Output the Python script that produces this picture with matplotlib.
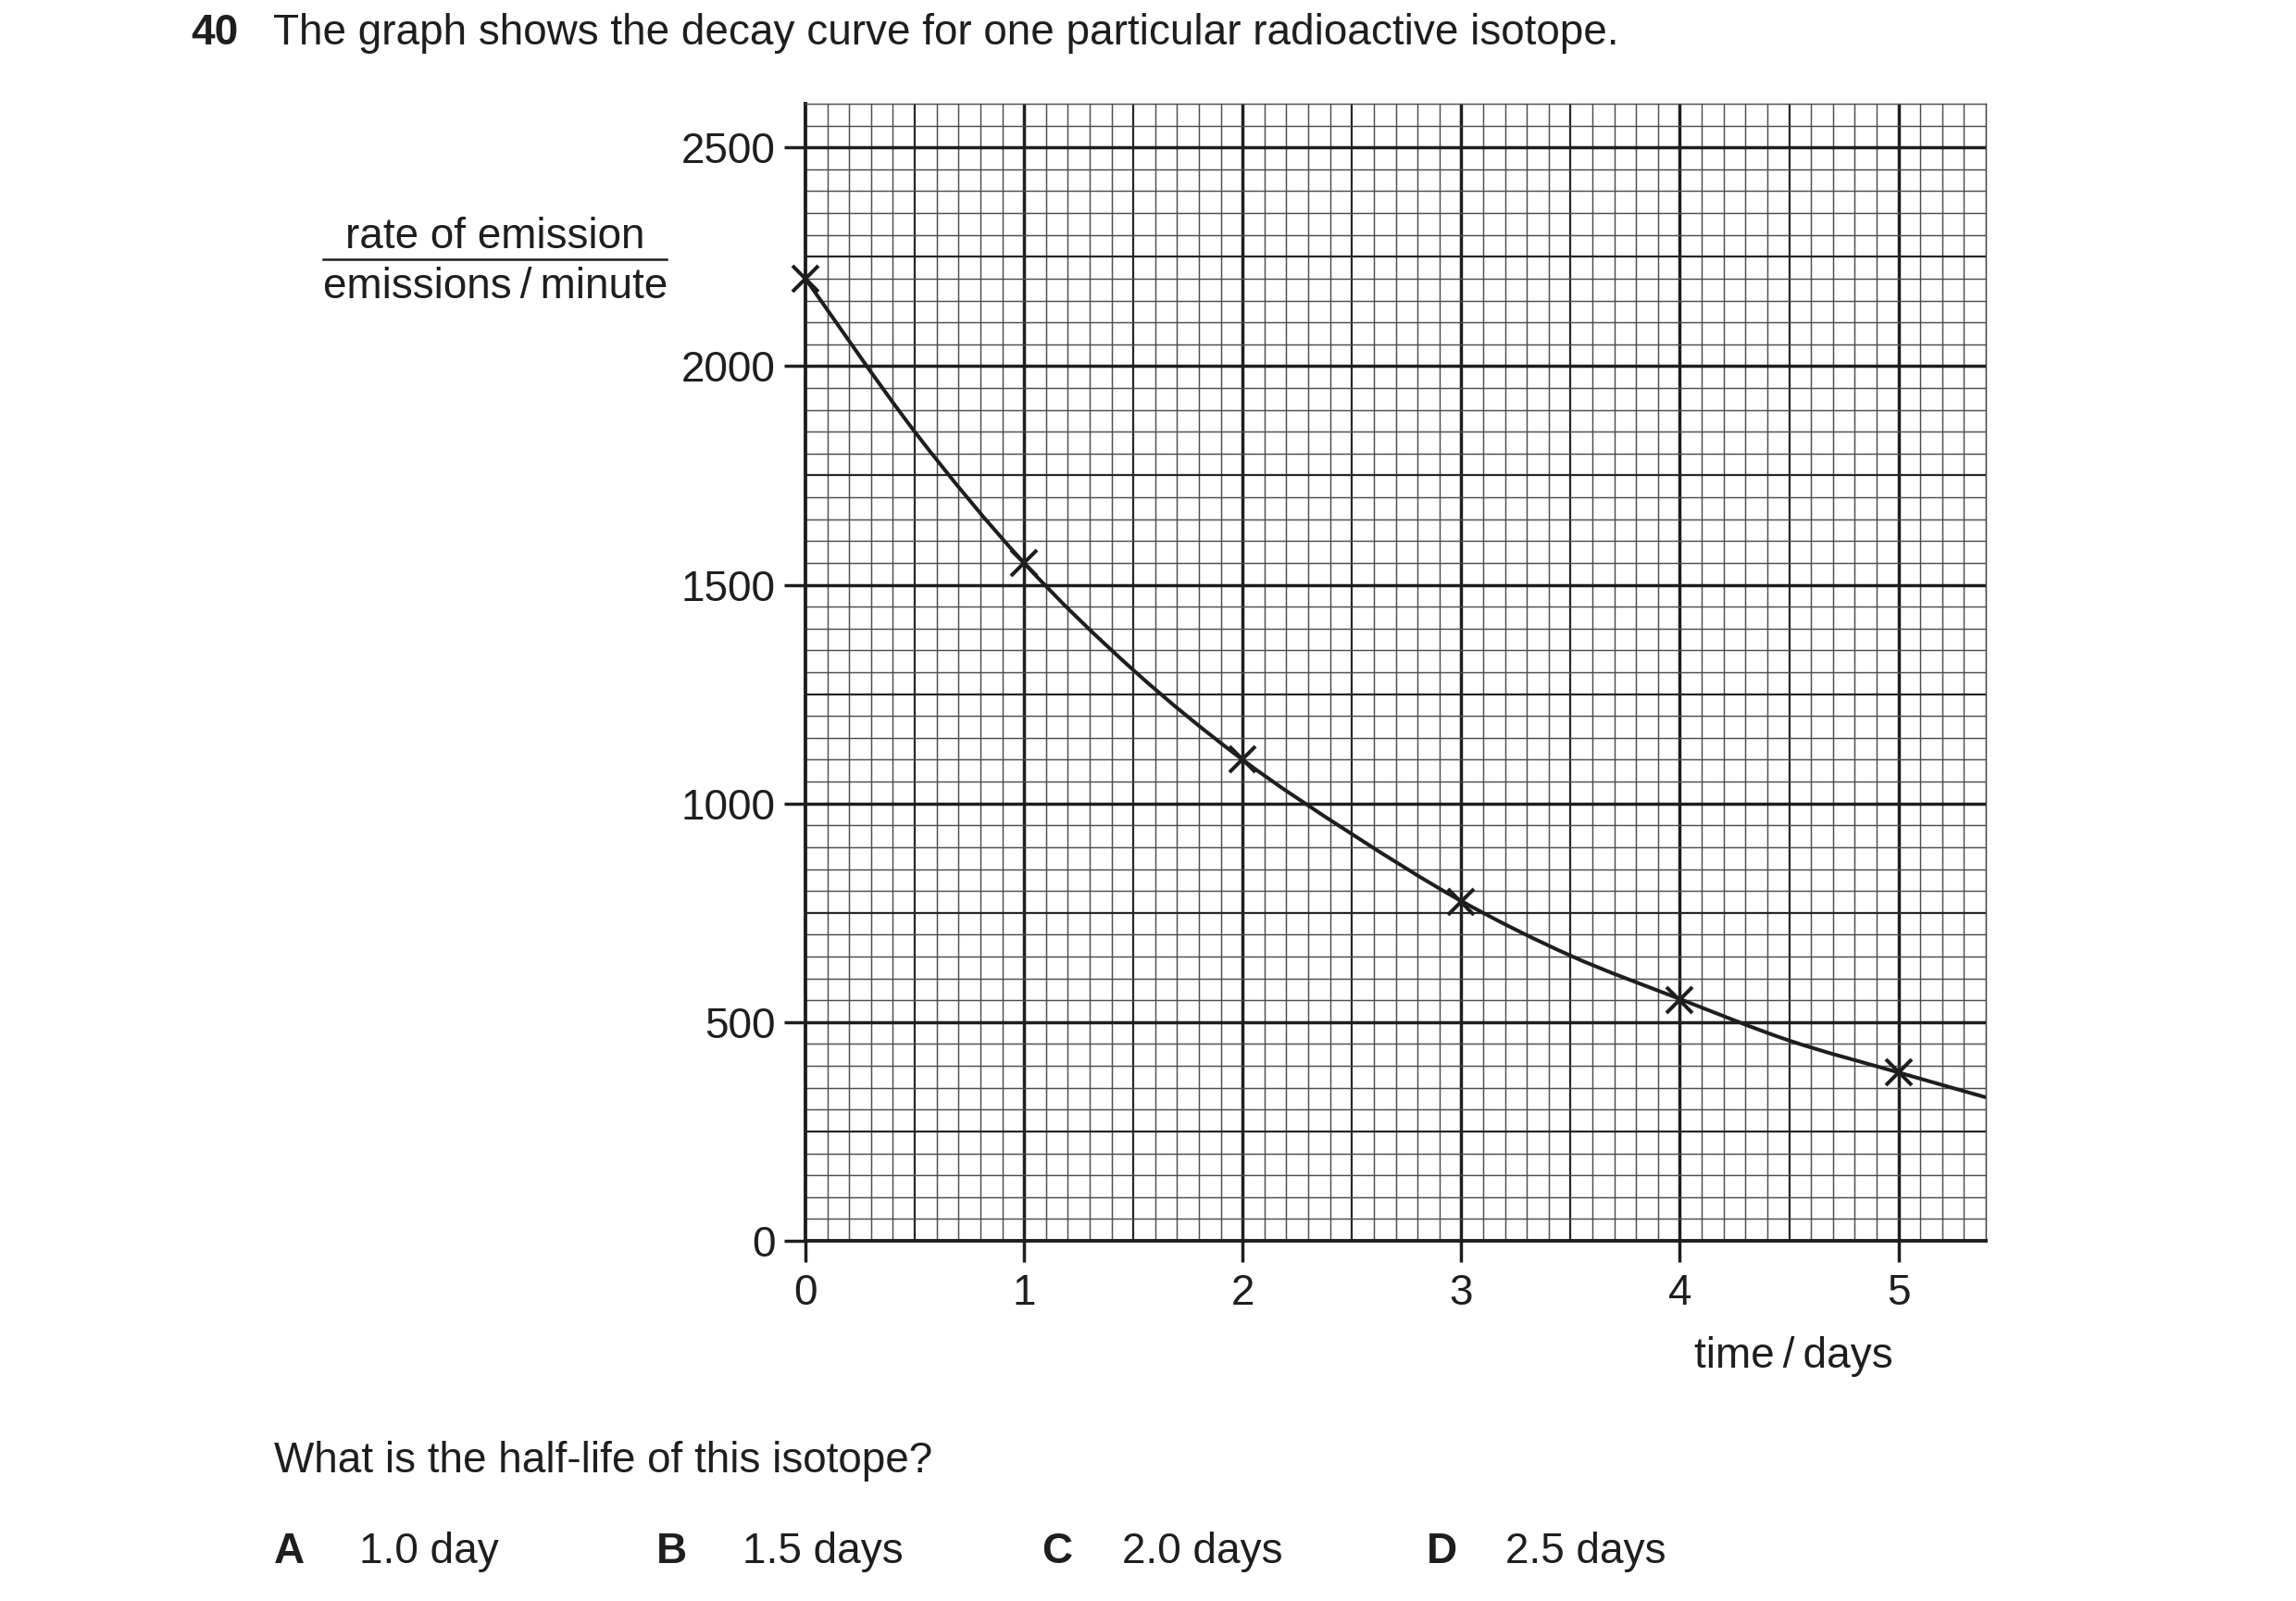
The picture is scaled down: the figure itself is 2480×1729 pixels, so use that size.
import numpy as np
import matplotlib.pyplot as plt
from matplotlib.path import Path
from matplotlib.patches import PathPatch

plt.rcParams['font.family'] = ['Liberation Sans', 'DejaVu Sans']

# measured points (crosses)
days = [0, 1, 2, 3, 4, 5]
rate = [2200, 1550, 1100, 775, 550, 385]

# the drawn curve, every half day
curve_t = [0, 0.5, 1, 1.5, 2, 2.5, 3, 3.5, 4, 4.5, 5, 5.4]
curve_rate = [2200, 1850, 1550, 1305, 1100, 930, 777, 652, 553, 458, 385, 328]

xticks = [0, 1, 2, 3, 4, 5]
yticks = [0, 500, 1000, 1500, 2000, 2500]

ink = '#1e1e1e'
fs = 33

fig = plt.figure(figsize=(24.8, 17.29), dpi=100)
ax = fig.add_axes([870/2480, 1 - 1340/1729, 1275/2480, 1228/1729])
ax.set_xlim(0, 5.4)
ax.set_ylim(0, 2600)

# graph paper
minor_c, minor_w = '#4d4d4d', 1.05
mid_c, mid_w = '#262626', 1.6
for v in np.arange(0.1, 5.4, 0.1):
    v = round(v, 1)
    if abs(v - round(v)) < 1e-9:
        ax.axvline(v, color=ink, lw=2.5, zorder=1)
    elif abs(v * 2 - round(v * 2)) < 1e-9:
        ax.axvline(v, color=mid_c, lw=mid_w, zorder=1)
    else:
        ax.axvline(v, color=minor_c, lw=minor_w, zorder=1)
for v in range(50, 2600, 50):
    if v % 500 == 0:
        ax.axhline(v, color=ink, lw=2.5, zorder=1)
    elif v % 250 == 0:
        ax.axhline(v, color=mid_c, lw=mid_w, zorder=1)
    else:
        ax.axhline(v, color=minor_c, lw=minor_w, zorder=1)

# smooth curve through the read points (Catmull-Rom as cubic Beziers)
P = np.column_stack([curve_t, curve_rate]).astype(float)
ext = np.vstack([P[0], P, P[-1]])
verts = [tuple(P[0])]
codes = [Path.MOVETO]
for i in range(len(P) - 1):
    p0, p1, p2, p3 = ext[i], ext[i + 1], ext[i + 2], ext[i + 3]
    c1 = p1 + (p2 - p0) / 6
    c2 = p2 - (p3 - p1) / 6
    verts += [tuple(c1), tuple(c2), tuple(p2)]
    codes += [Path.CURVE4] * 3
ax.add_patch(PathPatch(Path(verts, codes), fill=False, edgecolor=ink, lw=2.9,
                       zorder=3, capstyle='butt', clip_on=True))

ax.plot(days, rate, linestyle='none', marker='x', markersize=20, mew=2.9,
        color=ink, zorder=4, clip_on=False)

ax.set_xticks(xticks)
ax.set_yticks(yticks)
ax.tick_params(direction='out', length=16.5, width=2.5, color=ink,
               labelsize=fs, labelcolor=ink)
ax.tick_params(axis='y', pad=7)
ax.tick_params(axis='x', pad=9)
for s in ['left', 'bottom']:
    ax.spines[s].set_linewidth(2.8)
    ax.spines[s].set_color(ink)
for s in ['top', 'right']:
    ax.spines[s].set_linewidth(minor_w)
    ax.spines[s].set_color(minor_c)

# texts
fig.text(206/2480, 1 - 48/1729, '40', fontsize=fs, fontweight='bold',
         color=ink, va='baseline')
fig.text(295/2480, 1 - 48/1729,
         'The graph shows the decay curve for one particular radioactive isotope.',
         fontsize=fs, color=ink, va='baseline')

fig.text(535/2480, 1 - 268/1729, 'rate of emission', fontsize=fs, color=ink,
         ha='center', va='baseline')
fig.add_artist(plt.Line2D([349/2480, 720/2480], [1 - 280/1729, 1 - 280/1729],
                          color=ink, lw=1.8, transform=fig.transFigure))
fig.text(535/2480, 1 - 322/1729, 'emissions\u2009/\u2009minute', fontsize=fs,
         color=ink, ha='center', va='baseline')

fig.text(1937/2480, 1 - 1477/1729, 'time\u2009/\u2009days', fontsize=fs,
         color=ink, ha='center', va='baseline')

fig.text(296/2480, 1 - 1590/1729, 'What is the half-life of this isotope?',
         fontsize=fs, color=ink, va='baseline')

letters = ['A', 'B', 'C', 'D']
answers = ['1.0 day', '1.5 days', '2.0 days', '2.5 days']
letter_x = [296, 709, 1125, 1541]
answer_x = [388, 802, 1212, 1626]
for l, a, lx, axx in zip(letters, answers, letter_x, answer_x):
    fig.text(lx/2480, 1 - 1688/1729, l, fontsize=fs, fontweight='bold',
             color=ink, va='baseline')
    fig.text(axx/2480, 1 - 1688/1729, a, fontsize=fs, color=ink, va='baseline')

fig.savefig('out.png', dpi=100, facecolor='white')
